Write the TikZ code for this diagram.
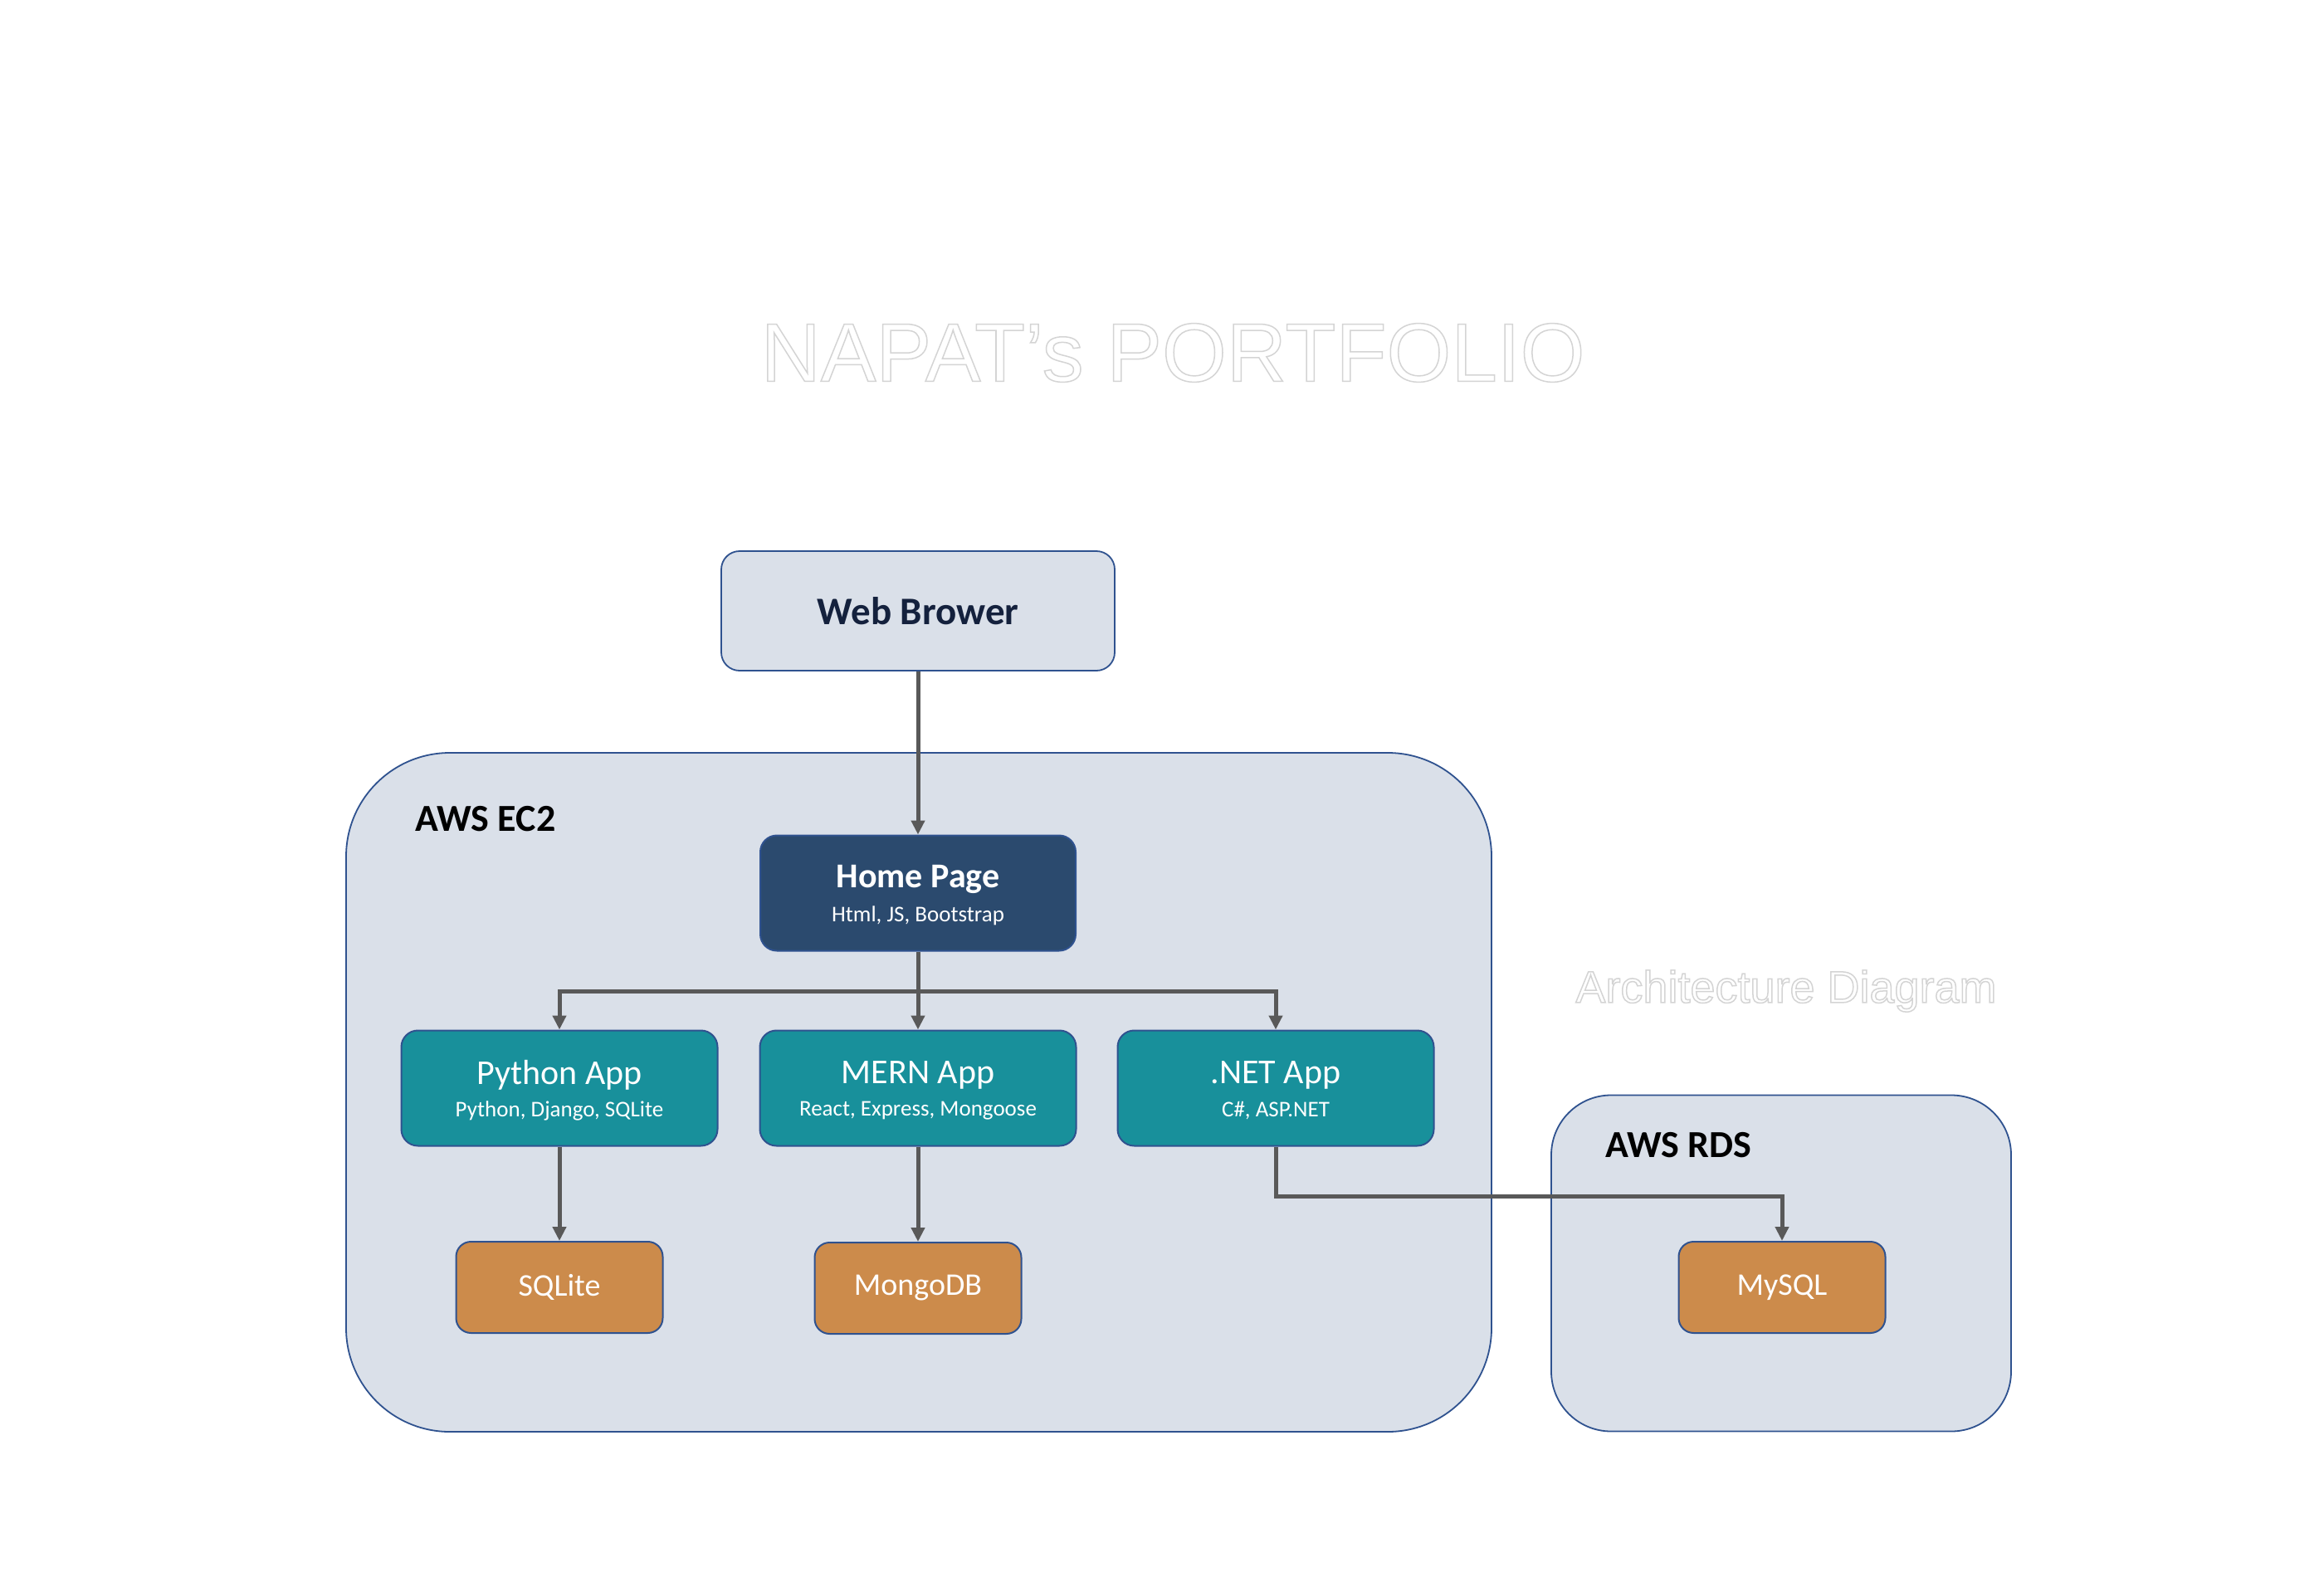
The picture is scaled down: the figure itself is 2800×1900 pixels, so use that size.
\documentclass[tikz,border=0pt]{standalone}
\usepackage{fontspec}
\setmainfont{Carlito}
\newfontfamily\arialf{Liberation Sans}
\usetikzlibrary{arrows.meta,calc}
\definecolor{boxbg}{HTML}{DAE0E9}
\definecolor{edgeblue}{HTML}{2F528F}
\definecolor{navybox}{HTML}{2B4A6E}
\definecolor{tealbox}{HTML}{18909B}
\definecolor{orngbox}{HTML}{CC8B4B}
\definecolor{conncol}{HTML}{595959}
\definecolor{webtxt}{HTML}{14213D}
\newcommand{\outlinetxt}[1]{\special{pdf:code 2 Tr 1.5 w 0.83 0.83 0.83 RG}#1\special{pdf:code 0 Tr}}
\begin{document}
\begin{tikzpicture}[x=1pt,y=-1pt,
  container/.style={draw=edgeblue, line width=1.8pt, fill=boxbg, inner sep=0pt},
  lightbox/.style={draw=edgeblue, line width=1.8pt, fill=boxbg, rounded corners=22pt, inner sep=0pt, minimum width=474pt, minimum height=144pt},
  homebox/.style={draw=edgeblue, line width=2pt, fill=navybox, rounded corners=20pt, inner sep=0pt, minimum width=380pt, minimum height=139pt},
  appbox/.style={draw=edgeblue, line width=2pt, fill=tealbox, rounded corners=20pt, inner sep=0pt, minimum width=381pt, minimum height=139pt},
  dbbox/.style={draw=edgeblue, line width=2pt, fill=orngbox, rounded corners=18pt, inner sep=0pt, minimum width=249pt, minimum height=110pt},
  titletxt/.style={inner sep=0pt, text=white, font=\fontsize{42pt}{50pt}\selectfont},
  subtxt/.style={inner sep=0pt, text=white, font=\fontsize{27pt}{32pt}\selectfont},
  dbtxt/.style={inner sep=0pt, text=white, font=\fontsize{38pt}{46pt}\selectfont},
  grouplbl/.style={inner sep=0pt, anchor=west, text=black, font=\fontsize{46pt}{55pt}\selectfont\bfseries},
  conn/.style={draw=conncol, line width=5pt, -{Triangle[length=17pt,width=16pt]}},
]
\useasboundingbox (0,0) rectangle (2800,1900);
\fill[white] (0,0) rectangle (2800,1900);

% containers
\node[container, rounded corners=125pt, minimum width=1380pt, minimum height=818pt] (ec2) at (1107,1316) {};
\node[container, rounded corners=72pt, minimum width=554pt, minimum height=405pt] (rds) at (2146,1522) {};
\node[grouplbl] (ec2lbl) at (500,987) {AWS EC2};
\node[grouplbl] (rdslbl) at (1934,1380) {AWS RDS};

% boxes
\node[lightbox] (web) at (1106,736) {};
\node[inner sep=0pt, text=webtxt, font=\fontsize{47pt}{56pt}\selectfont\bfseries] (webt) at (web.center) {Web Brower};

\node[homebox] (home) at (1106,1076) {};
\node[titletxt, font=\fontsize{42pt}{50pt}\selectfont\bfseries] (homet) at ($(home.center)+(0,-17)$) {Home Page};
\node[subtxt] (homes) at ($(home.center)+(0,27)$) {Html, JS, Bootstrap};

\node[appbox] (py) at (674,1311) {};
\node[titletxt] (pyt) at ($(py.center)+(0,-16)$) {Python App};
\node[subtxt] (pys) at ($(py.center)+(0,27)$) {Python, Django, SQLite};

\node[appbox] (mern) at (1106,1311) {};
\node[titletxt] (mernt) at ($(mern.center)+(0,-16)$) {MERN App};
\node[subtxt] (merns) at ($(mern.center)+(0,27)$) {React, Express, Mongoose};

\node[appbox] (net) at (1537,1311) {};
\node[titletxt] (nett) at ($(net.center)+(0,-16)$) {.NET App};
\node[subtxt] (nets) at ($(net.center)+(0,27)$) {C\#, ASP.NET};

\node[dbbox] (sqlite) at (674,1551) {};
\node[dbtxt] (sqlitet) at (sqlite.center) {SQLite};
\node[dbbox] (mongo) at (1106,1552) {};
\node[dbtxt] (mongot) at (mongo.center) {MongoDB};
\node[dbbox] (mysql) at (2147,1551) {};
\node[dbtxt] (mysqlt) at (mysql.center) {MySQL};

% connectors
\coordinate (bus) at (1106,1194);
\draw[conn] (web.south) -- (home.north);
\draw[conn, -] (home.south) -- (bus);
\draw[conn] (bus) -| (py.north);
\draw[conn] (bus) -- (mern.north);
\draw[conn] (bus) -| (net.north);
\draw[conn] (py.south) -- (sqlite.north);
\draw[conn] (mern.south) -- (mongo.north);
\draw[conn] (net.south) -- ++(0,60) -| (mysql.north);

% outlined (white) texts
\node[inner sep=0pt, text=white, font=\arialf\fontsize{54pt}{64pt}\selectfont] (arch) at (2152,1194) {\outlinetxt{Architecture Diagram}};
\node[inner sep=0pt, text=white, font=\arialf\fontsize{100pt}{118pt}\selectfont] (title) at (1413,425) {\outlinetxt{NAPAT’s PORTFOLIO}};
\end{tikzpicture}
\end{document}
